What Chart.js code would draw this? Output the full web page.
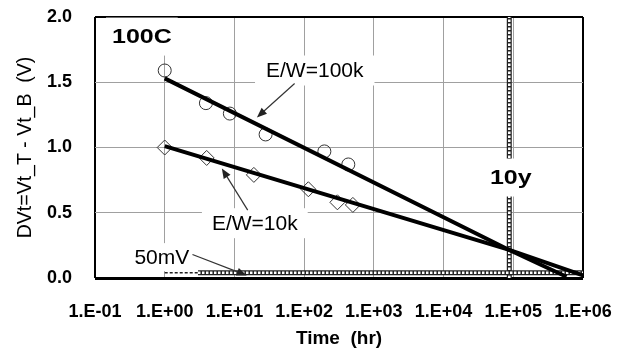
<!DOCTYPE html>
<html>
<head>
<meta charset="utf-8">
<script src="https://cdn.jsdelivr.net/npm/chart.js@4.4.0/dist/chart.umd.min.js"></script>
<style>
  html, body { margin: 0; padding: 0; background: #fff; }
  #chart { display: block; }
</style>
</head>
<body>
<canvas id="chart" width="627" height="353"></canvas>
<script>
// axis ticks
const timeTicks = [0.1, 1, 10, 100, 1000, 10000, 100000, 1000000];
const timeTickLabels = ["1.E-01", "1.E+00", "1.E+01", "1.E+02", "1.E+03", "1.E+04", "1.E+05", "1.E+06"];
const dvTicks = [0, 0.5, 1.0, 1.5, 2.0];
const dvTickLabels = ["0.0", "0.5", "1.0", "1.5", "2.0"];

// measured points (hr, V)
const ew100kTime = [1, 3.9, 8.6, 28, 195, 430];
const ew100kDv = [1.59, 1.34, 1.26, 1.10, 0.97, 0.87];
const ew10kTime = [1, 4, 19, 115, 300, 500];
const ew10kDv = [1.0, 0.92, 0.79, 0.68, 0.58, 0.56];

// extrapolation lines
const fit100kTime = [1, 87600, 580000];
const fit100kDv = [1.53, 0.215, 0.01];
const fit10kTime = [1, 87600, 1000000];
const fit10kDv = [1.01, 0.215, 0.02];

// 50mV criterion and 10 year mark
const limitDashTime = [1, 3];
const limitTime = [3, 1000000];
const limitDv = 0.04;
const tenYearTime = 87600;
const tenYearDv = [0, 2];

function pts(xs, ys) {
  return xs.map((x, i) => ({ x: x, y: Array.isArray(ys) ? ys[i] : ys }));
}
function vpts(x, ys) {
  return ys.map((y) => ({ x: x, y: y }));
}

const notas = [
  { text: "100C", x: 0.47, y: 1.85, font: "bold 20px 'Liberation Sans', Arial", sx: 1.25, padX: 6, padY: 19 },
  { text: "E/W=100k", x: 142, y: 1.59, font: "21px 'Liberation Sans', Arial", sx: 1, padX: 11, padY: 15 },
  { text: "E/W=10k", x: 19.6, y: 0.42, font: "21px 'Liberation Sans', Arial", sx: 1, padX: 10, padY: 15 },
  { text: "50mV", x: 0.91, y: 0.16, font: "21px 'Liberation Sans', Arial", sx: 1, padX: 3, padY: 14 },
  { text: "10y", x: 92000, y: 0.77, font: "bold 20px 'Liberation Sans', Arial", sx: 1.25, padX: 4, padY: 19 },
];

const flechas = [
  { from: [73, 1.49], to: [21, 1.23] },
  { from: [15.5, 0.52], to: [6.6, 0.84] },
  { from: [2.5, 0.18], to: [15, 0.02] },
];

function drawArrow(ctx, x1, y1, x2, y2) {
  const ang = Math.atan2(y2 - y1, x2 - x1);
  const c = Math.cos(ang), s = Math.sin(ang);
  const len = 10, half = 4;
  ctx.beginPath();
  ctx.moveTo(x1, y1);
  ctx.lineTo(x2 - c * len * 0.7, y2 - s * len * 0.7);
  ctx.stroke();
  ctx.beginPath();
  ctx.moveTo(x2, y2);
  ctx.lineTo(x2 - c * len + s * half, y2 - s * len - c * half);
  ctx.lineTo(x2 - c * len - s * half, y2 - s * len + c * half);
  ctx.closePath();
  ctx.fill();
}

const notasPlugin = {
  id: "notas",
  afterDatasetsDraw(chart) {
    const ctx = chart.ctx;
    const xs = chart.scales.x, ys = chart.scales.y;
    ctx.save();
    notas.forEach((n) => {
      const px = xs.getPixelForValue(n.x);
      const py = ys.getPixelForValue(n.y);
      ctx.font = n.font;
      const w = ctx.measureText(n.text).width * n.sx;
      ctx.fillStyle = "#fff";
      ctx.fillRect(px - w / 2 - n.padX, py - n.padY, w + n.padX * 2, n.padY * 2);
      ctx.fillStyle = "#000";
      ctx.textAlign = "center";
      ctx.textBaseline = "middle";
      ctx.save();
      ctx.translate(px, py);
      ctx.scale(n.sx, 1);
      ctx.fillText(n.text, 0, 1);
      ctx.restore();
    });
    ctx.strokeStyle = "#333";
    ctx.fillStyle = "#222";
    ctx.lineWidth = 1.2;
    flechas.forEach((f) => {
      drawArrow(ctx,
        xs.getPixelForValue(f.from[0]), ys.getPixelForValue(f.from[1]),
        xs.getPixelForValue(f.to[0]), ys.getPixelForValue(f.to[1]));
    });
    ctx.restore();
  },
};

const tickFont = { family: "'Liberation Sans', Arial", size: 18, weight: "bold" };

new Chart(document.getElementById("chart"), {
  type: "scatter",
  data: {
    datasets: [
      {
        label: "fit 100k",
        data: pts(fit100kTime, fit100kDv),
        showLine: true,
        borderColor: "#000",
        borderWidth: 4,
        pointRadius: 0,
        order: 1,
      },
      {
        label: "fit 10k",
        data: pts(fit10kTime, fit10kDv),
        showLine: true,
        borderColor: "#000",
        borderWidth: 4,
        pointRadius: 0,
        order: 2,
      },
      {
        label: "E/W=100k",
        data: pts(ew100kTime, ew100kDv),
        pointStyle: "circle",
        pointRadius: 6.5,
        borderColor: "#333",
        borderWidth: 1,
        backgroundColor: "rgba(0,0,0,0)",
        order: 3,
      },
      {
        label: "E/W=10k",
        data: pts(ew10kTime, ew10kDv),
        pointStyle: "rectRot",
        pointRadius: 7.5,
        borderColor: "#333",
        borderWidth: 1,
        backgroundColor: "rgba(0,0,0,0)",
        order: 4,
      },
      {
        label: "50mV dash",
        data: pts(limitDashTime, limitDv),
        showLine: true,
        borderColor: "#222",
        borderWidth: 1.5,
        borderDash: [3, 2],
        pointRadius: 0,
        order: 5,
      },
      {
        label: "50mV in",
        data: pts(limitTime, limitDv),
        showLine: true,
        borderColor: "#fff",
        borderWidth: 2.5,
        borderDash: [2.5, 1.5],
        pointRadius: 0,
        order: 6,
      },
      {
        label: "50mV",
        data: pts(limitTime, limitDv),
        showLine: true,
        borderColor: "#222",
        borderWidth: 5,
        pointRadius: 0,
        order: 7,
      },
      {
        label: "10y in",
        data: vpts(tenYearTime, tenYearDv),
        showLine: true,
        borderColor: "#fff",
        borderWidth: 2.5,
        borderDash: [2.5, 1.5],
        pointRadius: 0,
        order: 8,
      },
      {
        label: "10y",
        data: vpts(tenYearTime, tenYearDv),
        showLine: true,
        borderColor: "#222",
        borderWidth: 5,
        pointRadius: 0,
        order: 9,
      },
    ],
  },
  options: {
    responsive: false,
    animation: false,
    devicePixelRatio: 1,
    layout: {
      autoPadding: false,
      padding: { top: 17, right: 44, bottom: 0, left: 0 },
    },
    plugins: {
      legend: { display: false },
      tooltip: { enabled: false },
    },
    scales: {
      x: {
        type: "logarithmic",
        min: 0.1,
        max: 1000000,
        afterBuildTicks: function (axis) {
          axis.ticks = timeTicks.map((v) => ({ value: v }));
        },
        afterFit: function (axis) {
          // the big tick padding would otherwise push the plot inwards
          axis.height = 75;
          axis.paddingLeft = 0;
          axis.paddingRight = 0;
        },
        border: { display: false },
        grid: {
          drawTicks: false,
          color: function (c) {
            const v = c.tick && c.tick.value;
            return v === 0.1 || v === 1000000 ? "#000" : "#a0a0a0";
          },
          lineWidth: function (c) {
            const v = c.tick && c.tick.value;
            return v === 0.1 || v === 1000000 ? 2 : 1;
          },
        },
        ticks: {
          autoSkip: false,
          maxRotation: 0,
          padding: 23,
          color: "#000",
          font: tickFont,
          callback: function (value, index) {
            return timeTickLabels[index];
          },
        },
        title: {
          display: true,
          text: "Time  (hr)",
          color: "#000",
          font: { family: "'Liberation Sans', Arial", size: 19, weight: "bold" },
          padding: { top: 0, bottom: 3 },
        },
      },
      y: {
        min: 0,
        max: 2,
        afterBuildTicks: function (axis) {
          axis.ticks = dvTicks.map((v) => ({ value: v }));
        },
        afterFit: function (axis) {
          axis.width = 95;
          axis.paddingTop = 0;
          axis.paddingBottom = 0;
        },
        border: { display: false },
        grid: {
          drawTicks: false,
          color: function (c) {
            const v = c.tick && c.tick.value;
            return v === 0 || v === 2 ? "#000" : "#a0a0a0";
          },
          lineWidth: function (c) {
            const v = c.tick && c.tick.value;
            if (v === 0) return 3;
            return v === 2 ? 2 : 1;
          },
        },
        ticks: {
          padding: 23,
          color: "#000",
          font: tickFont,
          callback: function (value, index) {
            return dvTickLabels[index];
          },
        },
        title: {
          display: true,
          text: "DVt=Vt_T - Vt_B  (V)",
          color: "#000",
          font: { family: "'Liberation Sans', Arial", size: 19.5 },
          padding: { top: 14, bottom: 0 },
        },
      },
    },
  },
  plugins: [notasPlugin],
});
</script>
</body>
</html>
